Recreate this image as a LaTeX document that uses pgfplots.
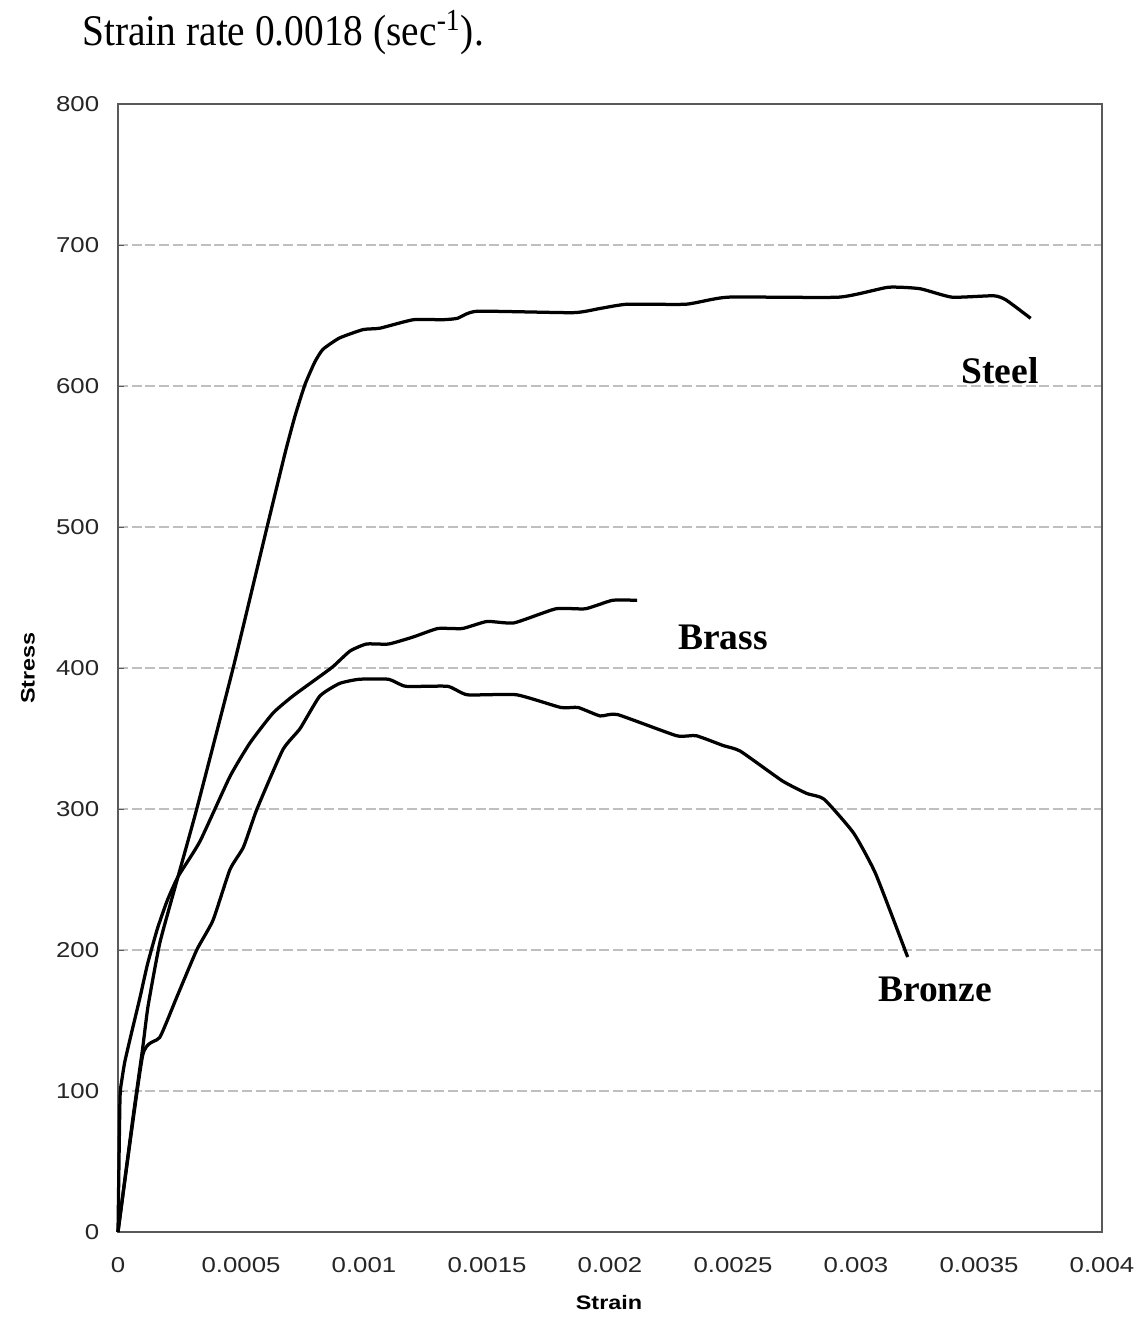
\documentclass[border=0pt]{standalone}
\usepackage{fontspec}
\setmainfont{Liberation Sans}
\newfontfamily\tickfont[FakeStretch=1.2]{Liberation Sans}
\newfontfamily\titlefont[FakeStretch=0.9]{Liberation Serif}
\newfontfamily\lblfont{Liberation Serif}
\usepackage{pgfplots}
\pgfplotsset{compat=1.18}
\usepackage{pgfplotstable}

\pgfplotstableread{
x y
0 0
0.00006 80
0.0001 130
0.000122 160
0.00017 205
0.000244 252
0.00032 300
0.000468 400
0.000606 500
0.00068 553
0.00072 579
0.00076 601
0.0008 617
0.000833 626
0.0009 634
0.000996 640
0.001065 641
0.0012 647
0.00132 647
0.00138 648
0.00146 653
0.00185 652
0.00196 655
0.00207 658
0.00231 658
0.00248 663
0.00293 663
0.00313 670
0.00326 669
0.00339 663
0.00356 664
0.00361 661
0.00371 648
}\steel

\pgfplotstableread{
x y
0 0
0.000008 94
0.000015 107
0.000028 121
0.000056 142
0.000089 166
0.00012 190
0.00016 215
0.0002 235
0.000244 252
0.000333 277
0.000455 323
0.000537 347
0.00063 368
0.00071 380
0.00082 394
0.000874 401
0.000943 412
0.00101 417
0.0011 417
0.0012 422
0.0013 428
0.0014 428
0.0015 433
0.00161 432
0.00178 442
0.0019 442
0.00201 448
0.00211 448
}\brass

\pgfplotstableread{
x y
0 0
0.0001 125
0.00017 138
0.00024 167
0.00032 200
0.000386 221
0.000455 257
0.00051 273
0.000565 300
0.00067 342
0.00074 357
0.00082 380
0.0009 389
0.00098 392
0.0011 392
0.00117 387
0.00134 387
0.00142 381
0.00162 381
0.0018 372
0.00187 372
0.00196 366
0.00203 367
0.00227 352
0.00235 352
0.00246 345
0.00253 341
0.0027 320
0.0028 311
0.00287 307
0.00299 283
0.00308 254
0.00321 195
}\bronze

\begin{document}
\begin{tikzpicture}
\begin{axis}[
  at={(0,0)}, anchor=south west,
  scale only axis,
  width=393.6pt, height=451.2pt,
  xmin=0, xmax=0.004, ymin=0, ymax=800,
  xtick={0,0.0005,0.001,0.0015,0.002,0.0025,0.003,0.0035,0.004},
  xticklabels={0,0.0005,0.001,0.0015,0.002,0.0025,0.003,0.0035,0.004},
  ytick={0,100,200,300,400,500,600,700,800},
  yticklabels={0,100,200,300,400,500,600,700,800},
  /pgf/number format/assume math mode=true,
  scaled x ticks=false,
  ymajorgrids,
  grid style={black!25, line width=0.5pt, dash pattern=on 4pt off 1.5pt},
  axis line style={black!65, line width=0.7pt},
  tick align=inside,
  major tick length=2.5pt,
  xtick style={draw=none},
  ytick pos=left,
  ytick style={black!65},
  tick label style={font=\tickfont\fontsize{8.6}{9}\selectfont, text=black!85},
  yticklabel style={xshift=-4pt},
  xticklabel style={yshift=-6.5pt},
  cycle list={{black, no markers}},
  clip=false,
]
\addplot[black, no markers, line width=1.3pt, smooth, tension=0.3, line join=round] table[x=x,y=y] {\steel};
\addplot[black, no markers, line width=1.3pt, smooth, tension=0.3, line join=round] table[x=x,y=y] {\brass};
\addplot[black, no markers, line width=1.3pt, smooth, tension=0.3, line join=round] table[x=x,y=y] {\bronze};
\node[font=\lblfont\bfseries\fontsize{15}{15}\selectfont] at (axis cs:0.003585,611) {Steel};
\node[font=\lblfont\bfseries\fontsize{15}{15}\selectfont] at (axis cs:0.002459,422) {Brass};
\node[font=\lblfont\bfseries\fontsize{15}{15}\selectfont] at (axis cs:0.003321,172) {Bronze};
\end{axis}
\node[anchor=base west, font=\titlefont\fontsize{17.5}{18}\selectfont, inner sep=0pt] at (-14.4pt,474.4pt) {Strain rate 0.0018 (sec\textsuperscript{-1}).};
\node[rotate=90, font=\tickfont\bfseries\fontsize{7.8}{8}\selectfont] at (-36pt,225.6pt) {Stress};
\node[font=\tickfont\bfseries\fontsize{7.8}{8}\selectfont] at (196.4pt,-28.4pt) {Strain};
\pgfresetboundingbox
\useasboundingbox (-47.2pt,-34pt) rectangle (409.2pt,492.8pt);
\end{tikzpicture}
\end{document}
